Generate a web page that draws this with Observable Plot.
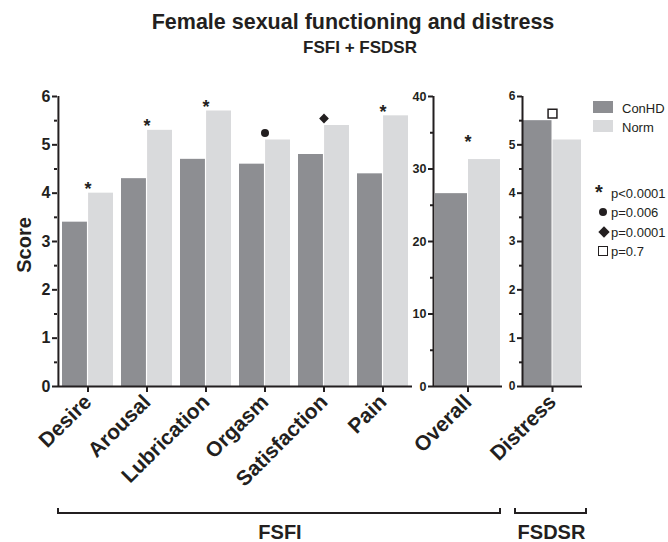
<!DOCTYPE html>
<html><head><meta charset="utf-8">
<script src="https://cdn.jsdelivr.net/npm/d3@7"></script>
<script src="https://cdn.jsdelivr.net/npm/@observablehq/plot@0.6"></script>
<style>
body{margin:0;background:#fff;font-family:"Liberation Sans",Arial,Helvetica,sans-serif;color:#231f20;}
#wrap{position:relative;width:668px;height:542px;overflow:hidden;}
.abs{position:absolute;line-height:1;white-space:nowrap;}
#wrap svg{position:absolute;left:0;top:0;}
</style></head><body><div id="wrap"></div>
<script>
// ---- data ----
const series = ["ConHD", "Norm"];
const seriesColors = ["#8d8e92", "#d9dadc"];
const fsfiCategories = ["Desire", "Arousal", "Lubrication", "Orgasm", "Satisfaction", "Pain"];
const fsfiConHD = [3.4, 4.3, 4.7, 4.6, 4.8, 4.4];
const fsfiNorm = [4.0, 5.3, 5.7, 5.1, 5.4, 5.6];
const fsfiSig = ["star", "star", "star", "circle", "diamond", "star"];
const overallCategories = ["Overall"];
const overallConHD = [26.6];
const overallNorm = [31.3];
const overallSig = ["star"];
const distressCategories = ["Distress"];
const distressConHD = [5.5];
const distressNorm = [5.1];
const distressSig = ["square"];
const scoreTicks = [0, 1, 2, 3, 4, 5, 6];
const scoreMinor = [0.5, 1.5, 2.5, 3.5, 4.5, 5.5];
const overallTicks = [0, 10, 20, 30, 40];
const overallMinor = [5, 15, 25, 35];
const sigKinds = ["star", "circle", "diamond", "square"];
const sigLabels = ["p<0.0001", "p=0.006", "p=0.0001", "p=0.7"];
const groupLabels = ["FSFI", "FSDSR"];
const title = "Female sexual functioning and distress";
const subtitle = "FSFI + FSDSR";
const yLabel = "Score";

// ---- layout ----
const ink = "#231f20";
const W = 668, H = 500, Y0 = 386, YTOP = 96;
const wrap = document.getElementById("wrap");
const FONT = '"Liberation Sans", Arial, Helvetica, sans-serif';

function panel(cfg) {
  const {cats, a, b, sig, yMax, major, minor, x0, x1, inset, tickFont, tickSize, gap} = cfg;
  const rows = cats.map((c, i) => ({cat: c, conhd: a[i], norm: b[i], sig: sig[i], top: Math.max(a[i], b[i])}));
  const half = (x1 - x0) / cats.length / 2;
  const kind = k => rows.filter(d => d.sig === k);
  return Plot.plot({
    width: W, height: H,
    marginLeft: x0, marginRight: W - x1, marginTop: YTOP, marginBottom: H - Y0,
    style: {background: "transparent", overflow: "visible", fontFamily: FONT, color: ink},
    x: {domain: cats, paddingInner: 0, paddingOuter: 0},
    y: {domain: [0, yMax]},
    marks: [
      Plot.barY(rows, {x: "cat", y: "conhd", fill: seriesColors[0], insetLeft: inset, insetRight: half + 0.5}),
      Plot.barY(rows, {x: "cat", y: "norm", fill: seriesColors[1], insetLeft: half + 0.5, insetRight: inset}),
      Plot.ruleY([0], {stroke: ink, strokeWidth: 2}),
      Plot.ruleX(rows.slice(0, 1), {x: "cat", y1: 0, y2: yMax, dx: -half, stroke: ink, strokeWidth: 2}),
      Plot.axisY({ticks: minor, tickSize: 3, tickFormat: () => "", label: null, stroke: ink, strokeWidth: 2}),
      Plot.axisY({ticks: major, tickSize: tickSize, tickPadding: 2, tickFormat: d3.format("d"), fontSize: tickFont, fontWeight: "bold", label: null, stroke: ink, strokeWidth: 2}),
      Plot.axisX({tickSize: 6, tickRotate: -45, tickPadding: 6, fontSize: 21, fontWeight: "bold", label: null, stroke: ink, strokeWidth: 2}),
      Plot.text(kind("star"), {x: "cat", y: "top", text: () => "*", fontSize: 18, fontWeight: "bold", lineAnchor: "middle", dy: 3 - gap, fill: ink}),
      Plot.dot(kind("circle"), {x: "cat", y: "top", symbol: "circle", r: 4, fill: ink, stroke: null, dy: -gap}),
      Plot.dot(kind("diamond"), {x: "cat", y: "top", symbol: "diamond2", r: 4.4, fill: ink, stroke: null, dy: -gap}),
      Plot.dot(kind("square"), {x: "cat", y: "top", symbol: "square", r: 5, fill: "white", stroke: ink, strokeWidth: 1.5, dy: -gap})
    ]
  });
}

wrap.append(panel({cats: fsfiCategories, a: fsfiConHD, b: fsfiNorm, sig: fsfiSig, yMax: 6, major: scoreTicks, minor: scoreMinor, x0: 57, x1: 412, inset: 4, tickFont: 16, tickSize: 5, gap: 7}));
wrap.append(panel({cats: overallCategories, a: overallConHD, b: overallNorm, sig: overallSig, yMax: 40, major: overallTicks, minor: overallMinor, x0: 433, x1: 502, inset: 2, tickFont: 12.5, tickSize: 5, gap: 20}));
wrap.append(panel({cats: distressCategories, a: distressConHD, b: distressNorm, sig: distressSig, yMax: 6, major: scoreTicks, minor: scoreMinor, x0: 522, x1: 582, inset: 1, tickFont: 12, tickSize: 5, gap: 7}));

function div(style, text) {
  const d = document.createElement("div");
  d.className = "abs";
  Object.assign(d.style, style);
  if (text != null) d.textContent = text;
  wrap.append(d);
  return d;
}
// titles
div({left: "353px", top: "12px", transform: "translateX(-50%)", fontSize: "21.5px", fontWeight: "bold"}, title);
div({left: "360px", top: "39px", transform: "translateX(-50%)", fontSize: "17px", fontWeight: "bold"}, subtitle);
div({left: "24px", top: "245px", transform: "translate(-50%,-50%) rotate(-90deg)", fontSize: "20px", fontWeight: "bold"}, yLabel);

// series legend
series.forEach((s, i) => {
  div({left: "593px", top: (101 + i * 19) + "px", width: "20px", height: "12px", background: seriesColors[i]});
  div({left: "622px", top: (102 + i * 19) + "px", fontSize: "13px"}, s);
});
// significance legend
sigKinds.forEach((k, i) => {
  const cy = 193 + i * 19.3;
  if (k === "star") div({left: "595px", top: (cy - 11) + "px", fontSize: "20px", fontWeight: "bold"}, "*");
  if (k === "circle") div({left: "599px", top: (cy - 4) + "px", width: "8px", height: "8px", borderRadius: "50%", background: ink});
  if (k === "diamond") div({left: "600px", top: (cy - 4) + "px", width: "8px", height: "8px", background: ink, transform: "rotate(45deg)"});
  if (k === "square") div({left: "598px", top: (cy - 5) + "px", width: "8px", height: "8px", border: "1.5px solid " + ink});
  div({left: "611px", top: (cy - 6) + "px", fontSize: "13px"}, sigLabels[i]);
});
// group brackets
const brackets = [[57, 501], [514, 587]];
brackets.forEach(([l, r], i) => {
  div({left: l + "px", top: "508px", width: (r - l - 4) + "px", height: "4px", borderLeft: "2px solid " + ink, borderRight: "2px solid " + ink, borderBottom: "2px solid " + ink});
  div({left: ((l + r) / 2 + 1) + "px", top: "522px", transform: "translateX(-50%)", fontSize: "20px", fontWeight: "bold"}, groupLabels[i]);
});
</script>
</body></html>
